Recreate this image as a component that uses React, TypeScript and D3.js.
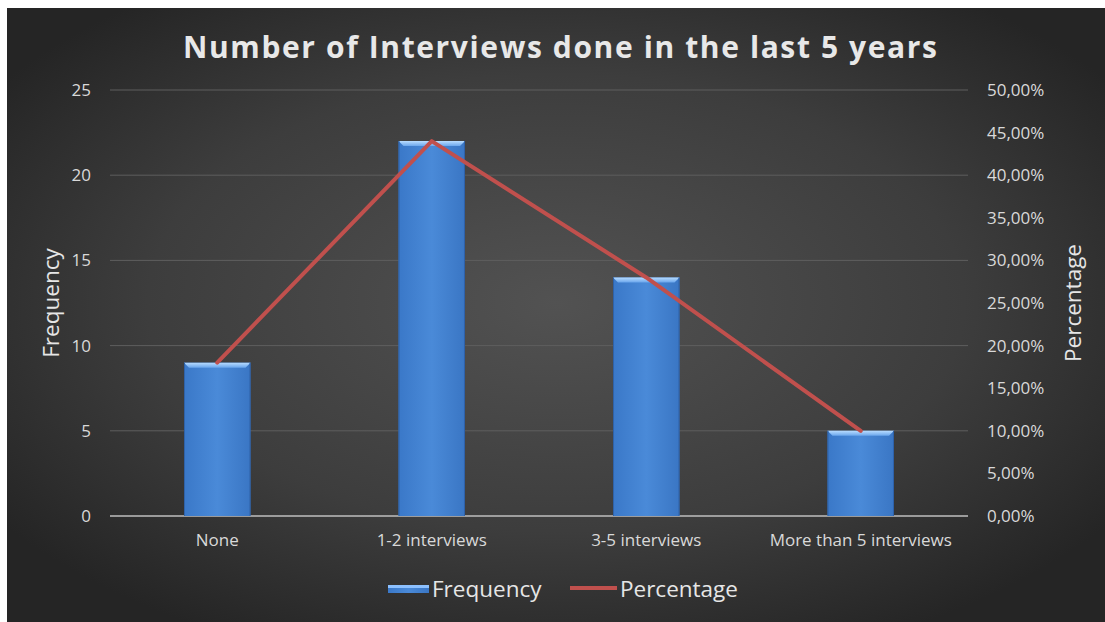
import React from "react";
import * as d3 from "d3";

const categories = ["None", "1-2 interviews", "3-5 interviews", "More than 5 interviews"];
const frequency = [9, 22, 14, 5];
const percentage = [0.18, 0.44, 0.28, 0.1];
const leftTicks = [0, 5, 10, 15, 20, 25];
const rightTicks = [0, 0.05, 0.1, 0.15, 0.2, 0.25, 0.3, 0.35, 0.4, 0.45, 0.5];
const title = "Number of Interviews done in the last 5 years";

const W = 1105;
const H = 622;
const plot = { left: 110, right: 968, top: 90, bottom: 516 };
const font = "'Open Sans', sans-serif";

export default function App() {
  const x = d3.scaleBand<string>().domain(categories).range([plot.left, plot.right]);
  const y = d3.scaleLinear().domain([0, 25]).range([plot.bottom, plot.top]);
  const y2 = d3.scaleLinear().domain([0, 0.5]).range([plot.bottom, plot.top]);
  const bw = x.bandwidth() * 0.31;
  const cx = (c: string) => (x(c) as number) + x.bandwidth() / 2;
  const line = d3
    .line<number>()
    .x((_, i) => cx(categories[i]))
    .y((d) => y2(d));
  const fmtPct = (v: number) => (v * 100).toFixed(2).replace(".", ",") + "%";

  return (
    <svg
      width={W}
      height={H}
      style={{ position: "absolute", left: 0, top: 0 }}
      xmlns="http://www.w3.org/2000/svg"
    >
      <defs>
        <radialGradient id="bg" cx="50%" cy="48%" r="62%">
          <stop offset="0%" stopColor="#525252" />
          <stop offset="60%" stopColor="#3d3d3d" />
          <stop offset="100%" stopColor="#252525" />
        </radialGradient>
        <linearGradient id="bar" x1="0" x2="1" y1="0" y2="0">
          <stop offset="0%" stopColor="#3a78c8" />
          <stop offset="50%" stopColor="#4a8ad8" />
          <stop offset="100%" stopColor="#3a76c4" />
        </linearGradient>
        <linearGradient id="bevel" x1="0" x2="0" y1="0" y2="1">
          <stop offset="0%" stopColor="#b8dcff" />
          <stop offset="100%" stopColor="#6aa6ec" />
        </linearGradient>
      </defs>
      <rect x={0} y={0} width={W} height={H} fill="#ffffff" />
      <rect x={7} y={8} width={W - 7} height={H - 8} fill="url(#bg)" />

      {/* gridlines */}
      {leftTicks.map((t) => (
        <line
          key={"g" + t}
          x1={plot.left}
          x2={plot.right}
          y1={y(t)}
          y2={y(t)}
          stroke={t === 0 ? "#bfbfbf" : "#5e5e5e"}
          strokeWidth={t === 0 ? 1.5 : 1}
        />
      ))}

      {/* bars */}
      {categories.map((c, i) => {
        const bx = cx(c) - bw / 2;
        const by = y(frequency[i]);
        const bh = plot.bottom - by;
        const bv = 5;
        return (
          <g key={c}>
            <rect x={bx} y={by} width={bw} height={bh} fill="url(#bar)" />
            <path
              d={`M${bx},${by} L${bx + bw},${by} L${bx + bw - bv},${by + bv} L${bx + bv},${by + bv} Z`}
              fill="url(#bevel)"
            />
            <line x1={bx + 0.5} x2={bx + 0.5} y1={by} y2={plot.bottom} stroke="#2f62a8" strokeWidth={1} />
            <line x1={bx + bw - 0.5} x2={bx + bw - 0.5} y1={by} y2={plot.bottom} stroke="#2f62a8" strokeWidth={1} />
          </g>
        );
      })}

      {/* percentage line */}
      <path
        d={line(percentage) || ""}
        fill="none"
        stroke="#c0504d"
        strokeWidth={4}
        strokeLinejoin="round"
        strokeLinecap="round"
      />

      {/* left ticks */}
      {leftTicks.map((t) => (
        <text
          key={"l" + t}
          x={91}
          y={y(t)}
          dy="0.35em"
          textAnchor="end"
          fill="#d9d9d9"
          fontFamily={font}
          fontSize={17}
        >
          {t}
        </text>
      ))}

      {/* right ticks */}
      {rightTicks.map((t) => (
        <text
          key={"r" + t}
          x={987}
          y={y2(t)}
          dy="0.35em"
          textAnchor="start"
          fill="#d9d9d9"
          fontFamily={font}
          fontSize={17}
        >
          {fmtPct(t)}
        </text>
      ))}

      {/* category labels */}
      {categories.map((c) => (
        <text
          key={"c" + c}
          x={cx(c)}
          y={540}
          dy="0.35em"
          textAnchor="middle"
          fill="#d9d9d9"
          fontFamily={font}
          fontSize={17}
        >
          {c}
        </text>
      ))}

      {/* axis titles */}
      <text
        transform={`translate(51,${(plot.top + plot.bottom) / 2}) rotate(-90)`}
        textAnchor="middle"
        dy="0.35em"
        fill="#e6e6e6"
        fontFamily={font}
        fontSize={22.5}
      >
        Frequency
      </text>
      <text
        transform={`translate(1073,${(plot.top + plot.bottom) / 2}) rotate(-90)`}
        textAnchor="middle"
        dy="0.35em"
        fill="#e6e6e6"
        fontFamily={font}
        fontSize={22.5}
      >
        Percentage
      </text>

      {/* title */}
      <text
        x={560}
        y={47}
        dy="0.35em"
        textAnchor="middle"
        fill="#e8e8e8"
        fontFamily={font}
        fontWeight="bold"
        fontSize={30}
        textLength={754}
        lengthAdjust="spacing"
      >
        {title}
      </text>

      {/* legend */}
      <rect x={388} y={585} width={41} height={8} fill="url(#bar)" />
      <rect x={388} y={585} width={41} height={3} fill="#8cc0ff" />
      <text x={432} y={589} dy="0.35em" fill="#e6e6e6" fontFamily={font} fontSize={22.5}>
        Frequency
      </text>
      <line x1={570} x2={617} y1={588} y2={588} stroke="#c0504d" strokeWidth={4} />
      <text x={620} y={589} dy="0.35em" fill="#e6e6e6" fontFamily={font} fontSize={22.5}>
        Percentage
      </text>
    </svg>
  );
}
